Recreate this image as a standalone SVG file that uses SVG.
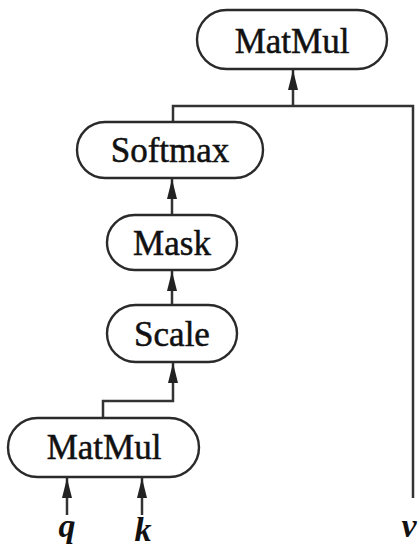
<svg xmlns="http://www.w3.org/2000/svg" width="418" height="547" viewBox="0 0 418 547">
<defs>
<marker id="arr" viewBox="0 0 20 10" refX="20" refY="5" markerWidth="20" markerHeight="10" markerUnits="userSpaceOnUse" orient="auto">
<path d="M0,0 L20,5 L0,10 Z" fill="#222"/>
</marker>
<style>
.box{fill:#fff;stroke:#2a2a2a;stroke-width:2.4}
.lbl{font-family:"Liberation Serif","Times New Roman",serif;font-size:35px;fill:#111;stroke:#111;stroke-width:0.5;text-anchor:middle}
.var{font-family:"Liberation Serif","Times New Roman",serif;font-size:34px;font-style:italic;font-weight:bold;fill:#111;text-anchor:middle}
.c{fill:none;stroke:#333;stroke-width:2.5}
</style>
</defs>
<rect width="418" height="547" fill="#fff"/>
<g id="connectors">
<path class="c" d="M173,122 V106 H413 V498"/>
<path class="c" d="M293,106 V70" marker-end="url(#arr)"/>
<path class="c" d="M172,215 V179" marker-end="url(#arr)"/>
<path class="c" d="M172,305 V271" marker-end="url(#arr)"/>
<path class="c" d="M103,418 V401 H173 V363" marker-end="url(#arr)"/>
<path class="c" d="M67,515 V478" marker-end="url(#arr)"/>
<path class="c" d="M142,515 V478" marker-end="url(#arr)"/>
</g>
<g id="matmul-top">
<rect class="box" x="197" y="10" width="190" height="59" rx="29.5"/>
<text class="lbl" x="292" y="53">MatMul</text>
</g>
<g id="softmax">
<rect class="box" x="77" y="122" width="186" height="56" rx="28"/>
<text class="lbl" x="170" y="162">Softmax</text>
</g>
<g id="mask">
<rect class="box" x="107" y="215" width="130" height="55" rx="27.5"/>
<text class="lbl" x="172" y="255">Mask</text>
</g>
<g id="scale">
<rect class="box" x="107" y="305" width="130" height="57" rx="28.5"/>
<text class="lbl" x="172" y="346">Scale</text>
</g>
<g id="matmul-bottom">
<rect class="box" x="8" y="418" width="191" height="59" rx="29.5"/>
<text class="lbl" x="104" y="459">MatMul</text>
</g>
<g id="inputs">
<text class="var" x="67" y="537">q</text>
<text class="var" x="143" y="541">k</text>
<text class="var" x="409" y="537">v</text>
</g>
</svg>
